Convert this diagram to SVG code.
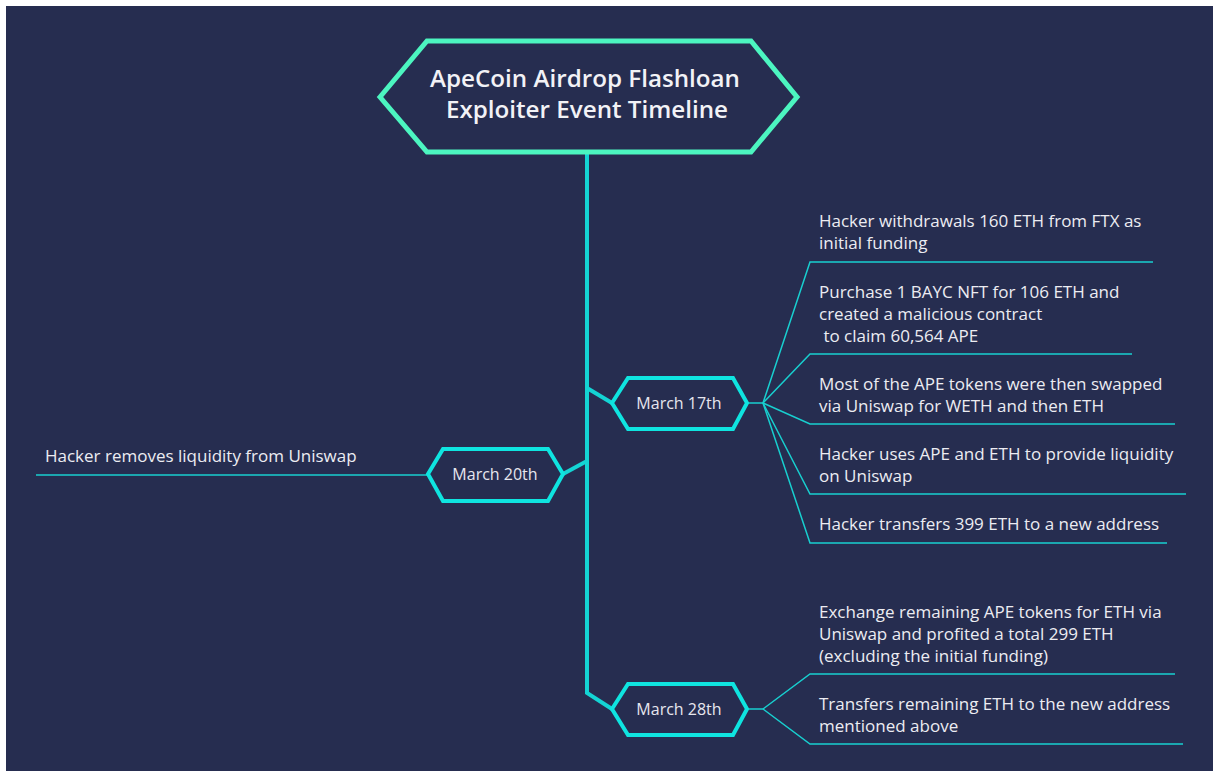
<svg xmlns="http://www.w3.org/2000/svg" width="1213" height="771" viewBox="0 0 1213 771">
<style>
.t{font-family:"Open Sans","Noto Sans",sans-serif;font-size:17px;fill:#ECECF2}
.title{font-family:"Open Sans","Noto Sans",sans-serif;font-size:24.2px;font-weight:600;fill:#F2F2F6;text-anchor:middle}
.date{font-family:"Open Sans","Noto Sans",sans-serif;font-size:16px;fill:#E6E6EE;text-anchor:middle}
.hex{fill:#262D50;stroke:#0FE4E0;stroke-width:4;stroke-linejoin:miter}
.thin{fill:none;stroke:#18CFCF;stroke-width:1.5}
.trunk{fill:none;stroke:#14D4D4;stroke-width:4;stroke-linejoin:miter}
</style>
<rect x="0" y="0" width="1213" height="771" fill="#FFFFFF"/>
<rect x="6" y="6" width="1207" height="765" fill="#262D50"/>
<g id="connectors">
<polyline class="trunk" points="587,153 587,693 612,709"/>
<line class="trunk" x1="587" y1="388" x2="612" y2="403" stroke-width="3"/>
<line class="trunk" x1="587" y1="461" x2="563" y2="474" stroke-width="3"/>
<line class="thin" x1="36" y1="475" x2="428" y2="475"/>
<line class="thin" x1="747" y1="403" x2="763" y2="403"/>
<polyline class="thin" points="763,403 810,262 1153,262"/>
<polyline class="thin" points="763,403 810,354 1132,354"/>
<polyline class="thin" points="763,403 810,424 1175,424"/>
<polyline class="thin" points="763,403 810,494 1186,494"/>
<polyline class="thin" points="763,403 810,543 1167,543"/>
<line class="thin" x1="747" y1="709" x2="763" y2="709"/>
<polyline class="thin" points="763,709 810,674 1175,674"/>
<polyline class="thin" points="763,709 810,744 1183,744"/>
</g>
<g id="title">
<polygon points="380,97 427,41 751,41 797,97 751,152 427,152" fill="#262D50" stroke="#4CF5C0" stroke-width="5"/>
<text class="title" x="585" y="87">ApeCoin Airdrop Flashloan</text>
<text class="title" x="587" y="118">Exploiter Event Timeline</text>
</g>
<g id="march17">
<polygon class="hex" points="612,403 628,378 733,378 747,403 733,429 628,429"/>
<text class="date" x="679" y="409">March 17th</text>
</g>
<g id="march20">
<polygon class="hex" points="428,474 443,449 548,449 563,474 548,501 443,501"/>
<text class="date" x="495" y="480">March 20th</text>
</g>
<g id="march28">
<polygon class="hex" points="612,709 628,684 733,684 747,709 733,735 628,735"/>
<text class="date" x="679" y="715">March 28th</text>
</g>
<g id="m20-item1"><text class="t" x="45" y="462">Hacker removes liquidity from Uniswap</text></g>
<g id="m17-item1"><text class="t" x="819" y="227">Hacker withdrawals 160 ETH from FTX as</text><text class="t" x="819" y="249">initial funding</text></g>
<g id="m17-item2"><text class="t" x="819" y="298">Purchase 1 BAYC NFT for 106 ETH and</text><text class="t" x="819" y="320">created a malicious contract</text><text class="t" x="819" y="342" xml:space="preserve"> to claim 60,564 APE</text></g>
<g id="m17-item3"><text class="t" x="819" y="390">Most of the APE tokens were then swapped</text><text class="t" x="819" y="412">via Uniswap for WETH and then ETH</text></g>
<g id="m17-item4"><text class="t" x="819" y="460">Hacker uses APE and ETH to provide liquidity</text><text class="t" x="819" y="482">on Uniswap</text></g>
<g id="m17-item5"><text class="t" x="819" y="530">Hacker transfers 399 ETH to a new address</text></g>
<g id="m28-item1"><text class="t" x="819" y="618">Exchange remaining APE tokens for ETH via</text><text class="t" x="819" y="640">Uniswap and profited a total 299 ETH</text><text class="t" x="819" y="662">(excluding the initial funding)</text></g>
<g id="m28-item2"><text class="t" x="819" y="710">Transfers remaining ETH to the new address</text><text class="t" x="819" y="732">mentioned above</text></g>
</svg>
